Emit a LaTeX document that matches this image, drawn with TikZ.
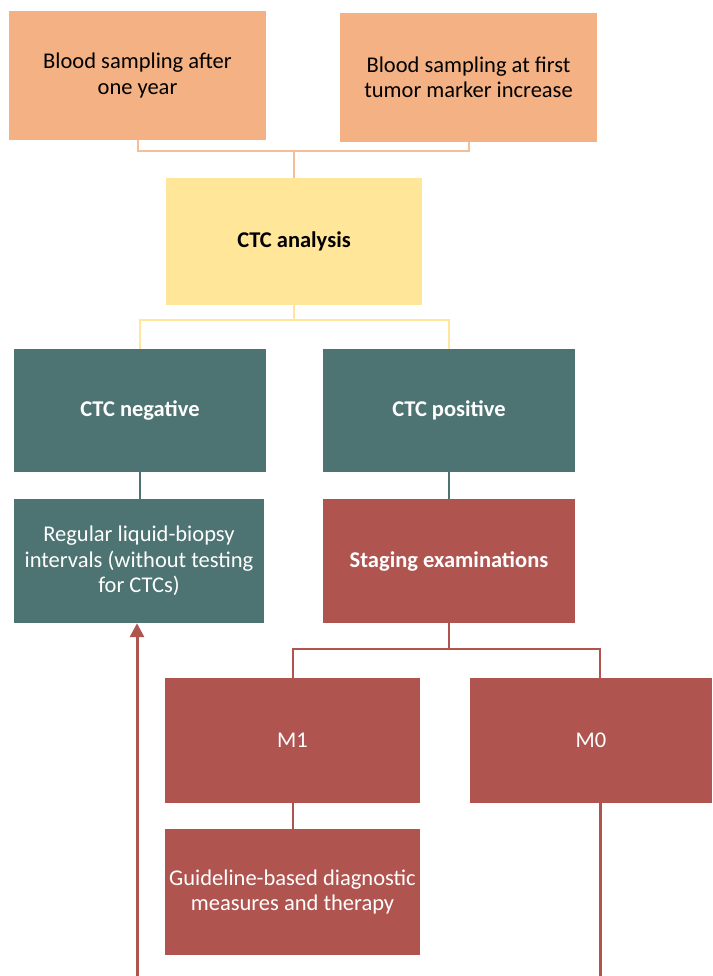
\documentclass[tikz,border=0pt]{standalone}
\usepackage{fontspec}
\setmainfont{Carlito}
\usetikzlibrary{arrows.meta}
\definecolor{sampleorange}{HTML}{F4B183}
\definecolor{lineorange}{HTML}{F6BE98}
\definecolor{ctcyellow}{HTML}{FFE699}
\definecolor{ctcteal}{HTML}{4D7472}
\definecolor{stagered}{HTML}{B05450}
\tikzset{
  flowbox/.style={inner sep=0pt, align=center, font=\fontsize{22.5}{25.5}\selectfont},
  boldbox/.style={flowbox, font=\fontsize{22.5}{25.5}\selectfont\bfseries},
  orangeline/.style={draw=lineorange, line width=2pt},
  yellowline/.style={draw=ctcyellow, line width=2pt},
  tealline/.style={draw=ctcteal, line width=2pt},
  redline/.style={draw=stagered, line width=2pt},
}
\begin{document}
\begin{tikzpicture}[x=1pt, y=-1pt]
	\useasboundingbox[fill=white] (0,0) rectangle (712,976);
	\node[flowbox, fill=sampleorange, minimum width=257pt, minimum height=129pt] (sampleYear) at (137.5,75.5) {Blood sampling after\\one year};
	\node[flowbox, fill=sampleorange, minimum width=257pt, minimum height=129pt] (sampleMarker) at (468.5,77.5) {Blood sampling at first\\tumor marker increase};
	\node[boldbox, fill=ctcyellow, minimum width=256pt, minimum height=127pt] (ctcAnalysis) at (294,241.5) {CTC analysis};
	\node[boldbox, fill=ctcteal, text=white, minimum width=252pt, minimum height=123pt] (ctcNeg) at (140,410.5) {CTC negative};
	\node[boldbox, fill=ctcteal, text=white, minimum width=252pt, minimum height=123pt] (ctcPos) at (449,410.5) {CTC positive};
	\node[flowbox, fill=ctcteal, text=white, minimum width=250pt, minimum height=124pt] (regular) at (139,561) {Regular liquid-biopsy\\intervals (without testing\\for CTCs)};
	\node[boldbox, fill=stagered, text=white, minimum width=252pt, minimum height=124pt] (staging) at (449,561) {Staging examinations};
	\node[flowbox, fill=stagered, text=white, minimum width=255pt, minimum height=125pt] (mOne) at (292.5,740.5) {M1};
	\node[flowbox, fill=stagered, text=white, minimum width=242pt, minimum height=125pt] (mZero) at (591,740.5) {M0};
	\node[flowbox, fill=stagered, text=white, minimum width=255pt, minimum height=126pt] (guideline) at (292.5,892) {Guideline-based diagnostic\\measures and therapy};
	\coordinate (bottomR) at (600,976);
	\coordinate (bottomL) at (137,976);
	\draw[orangeline] (sampleYear.south) -- ++(0,11) -| (ctcAnalysis.north);
	\draw[orangeline] (sampleMarker.south) -- ++(0,9) -| (ctcAnalysis.north);
	\draw[yellowline] (ctcAnalysis.south) -- ++(0,15) -| (ctcNeg.north);
	\draw[yellowline] (ctcAnalysis.south) -- ++(0,15) -| (ctcPos.north);
	\draw[tealline] (ctcNeg.south) -- (regular.north -| ctcNeg.south);
	\draw[tealline] (ctcPos.south) -- (staging.north);
	\draw[redline] (staging.south) -- ++(0,26) -| (mOne.north);
	\draw[redline] (staging.south) -- ++(0,26) -| (mZero.north -| bottomR);
	\draw[redline] (mOne.south) -- (guideline.north);
	\draw[redline, line width=3pt] (mZero.south -| bottomR) -- (bottomR);
	\draw[redline, line width=3pt, -{Triangle[length=14pt, width=14pt]}] (bottomL) -- (regular.south -| bottomL);
\end{tikzpicture}
\end{document}
